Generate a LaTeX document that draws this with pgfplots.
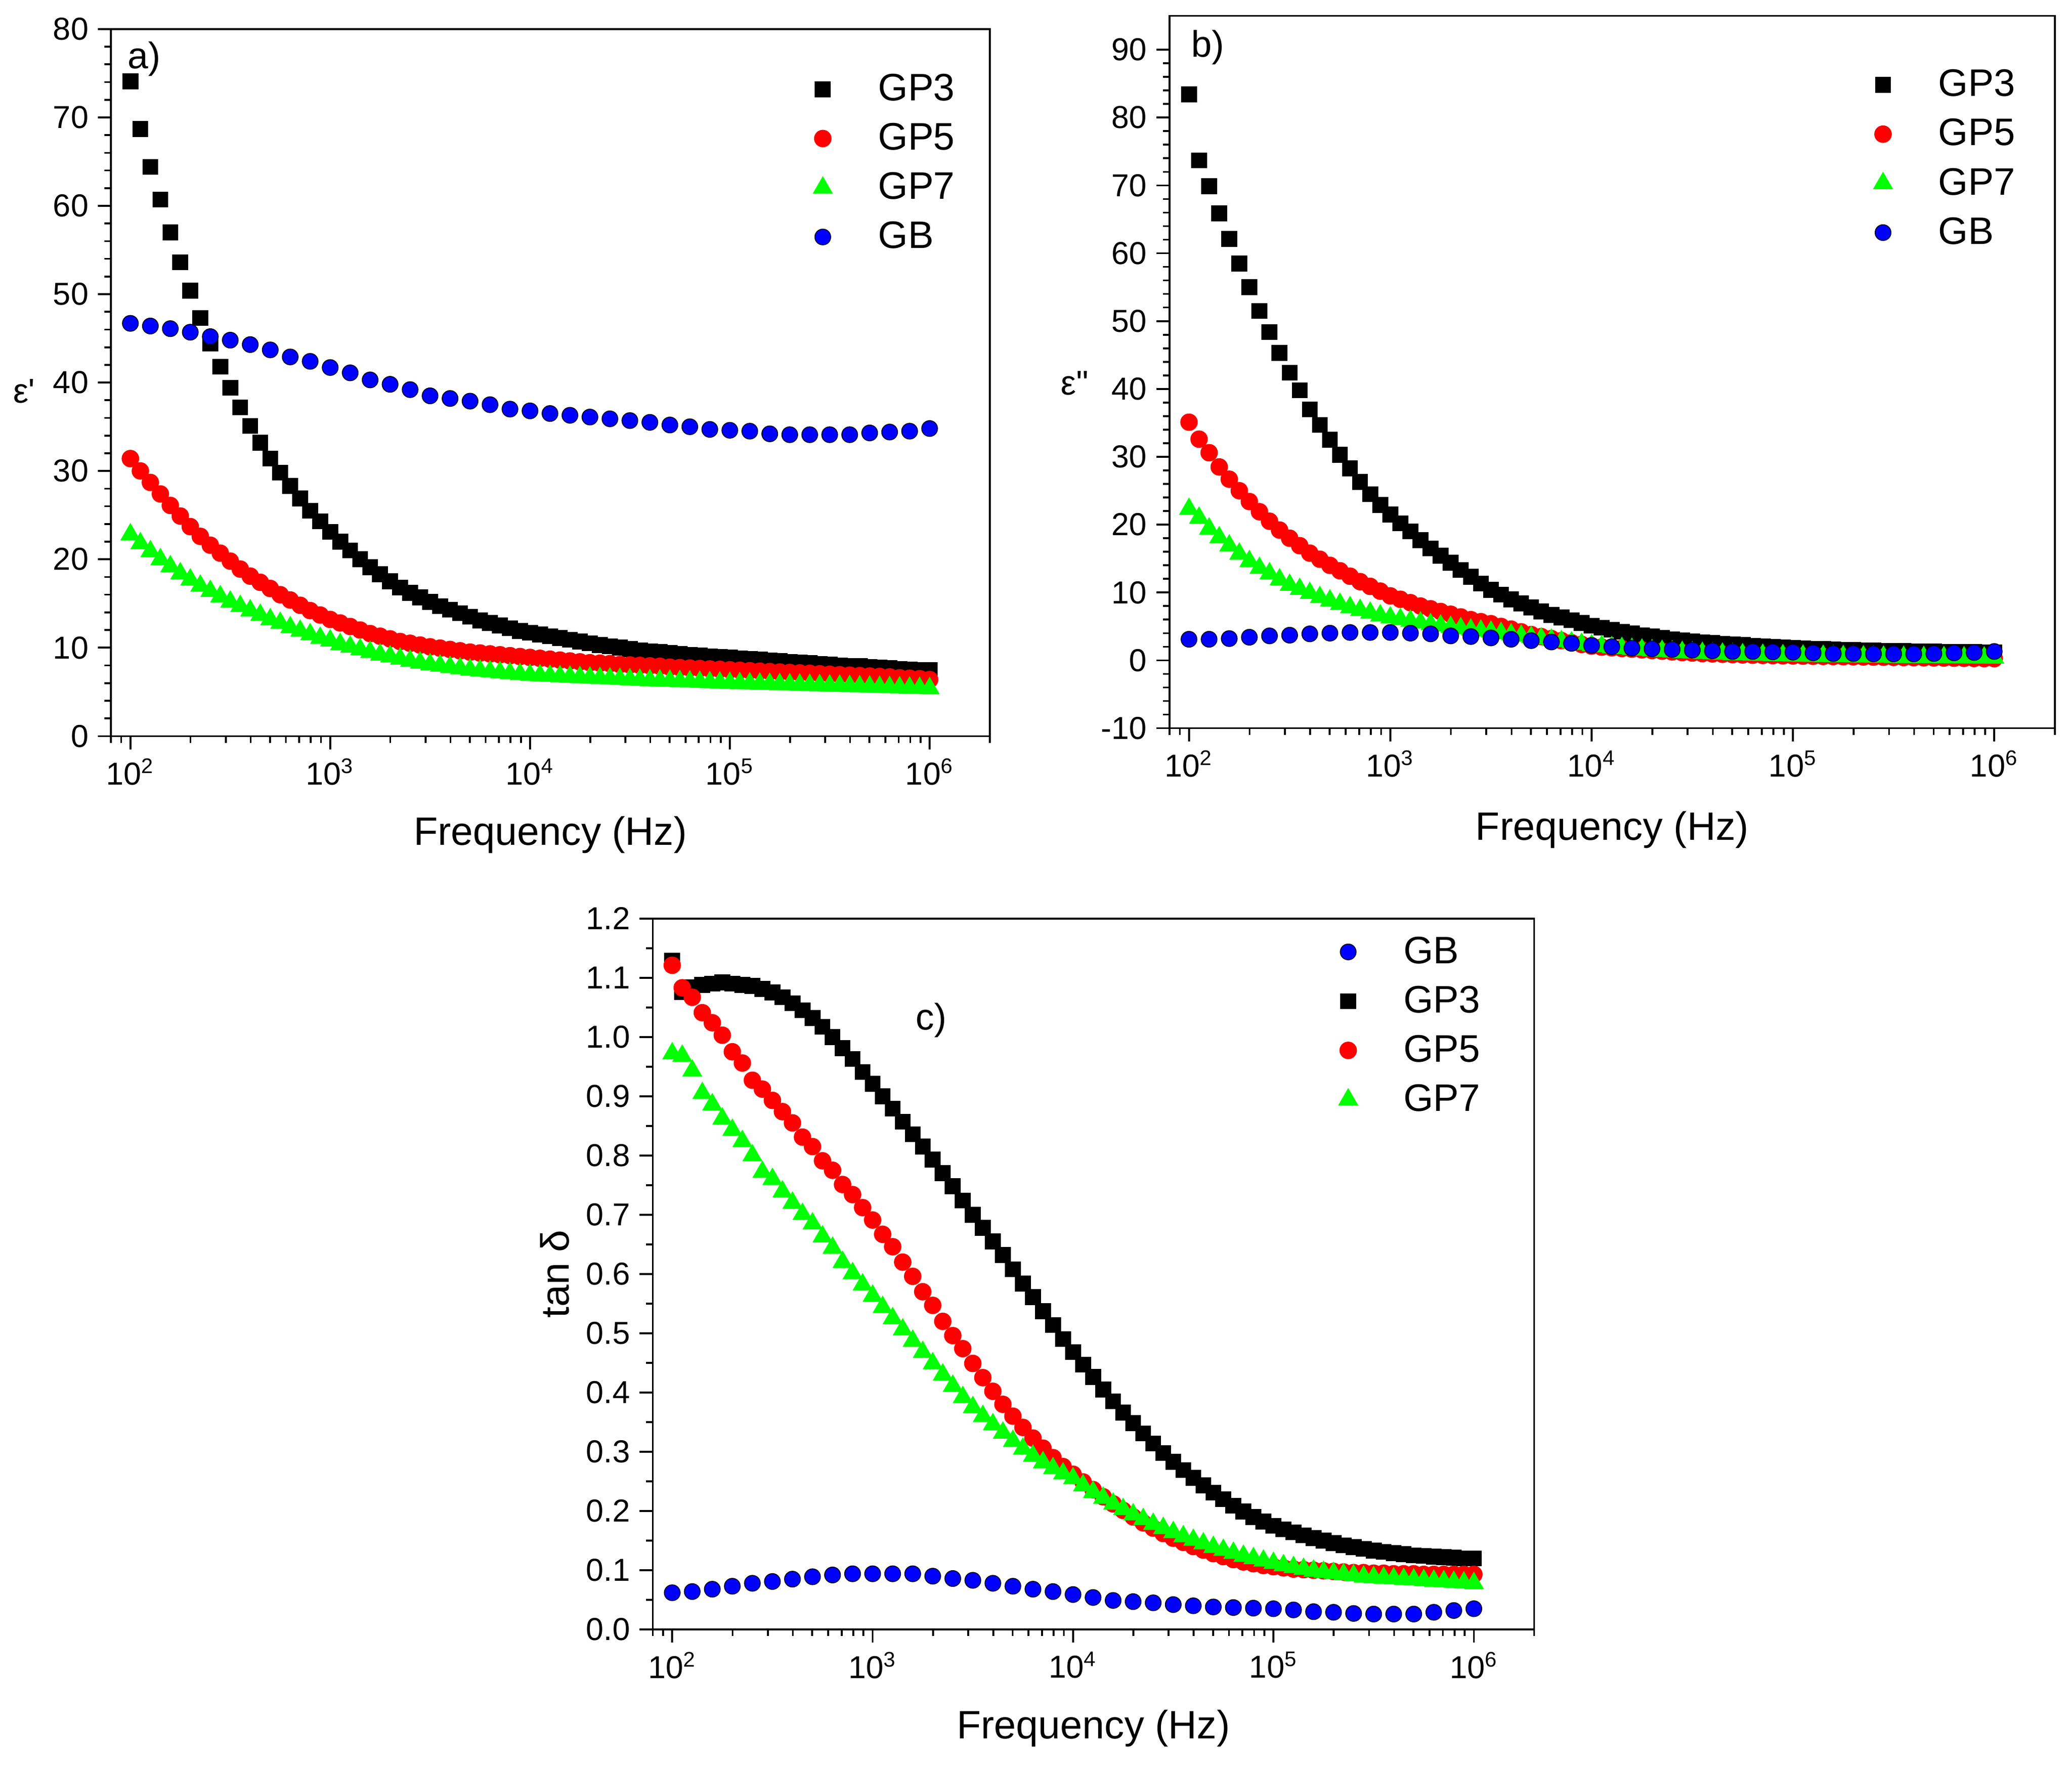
\documentclass[border=0pt]{standalone}
\usepackage{fontspec}
\setmainfont{Liberation Sans}
\usepackage{pgfplots}
\usepackage{pgfplotstable}
\pgfplotsset{compat=1.18}
\definecolor{ogreen}{RGB}{0,255,0}
\definecolor{ored}{RGB}{255,0,0}
\definecolor{oblue}{RGB}{0,0,255}

% GP samples: 20 points per decade; columns a = eps', b = eps'', c = tan delta
\pgfplotstableread{
f a3 a5 a7 b3 b5 b7 c3 c5 c7
100 74.1 31.4 22.8 83.4 35.1 22.3 1.129 1.121 0.972
112.2 68.7 30.0 21.8 73.7 32.6 21.0 1.076 1.083 0.968
125.9 64.4 28.7 20.9 69.9 30.6 19.4 1.084 1.067 0.943
141.3 60.7 27.4 20.0 65.9 28.5 18.1 1.088 1.041 0.905
158.5 57.0 26.1 19.2 62.1 26.7 16.9 1.090 1.024 0.886
177.8 53.6 24.9 18.4 58.5 25.0 15.7 1.092 1.003 0.862
199.5 50.4 23.7 17.7 55.0 23.4 14.6 1.090 0.975 0.843
223.9 47.3 22.6 17.0 51.5 21.9 13.6 1.088 0.956 0.824
251.2 44.4 21.6 16.4 48.4 20.5 12.8 1.086 0.927 0.800
281.8 41.8 20.7 15.8 45.3 19.2 11.9 1.081 0.912 0.772
316.2 39.4 19.8 15.2 42.4 18.0 11.1 1.075 0.893 0.760
354.8 37.2 18.9 14.7 39.8 16.9 10.5 1.067 0.874 0.739
398.1 35.1 18.1 14.2 37.0 15.8 9.9 1.057 0.855 0.720
446.7 33.2 17.4 13.7 34.7 14.9 9.3 1.045 0.831 0.701
501.2 31.4 16.7 13.2 32.5 14.0 8.8 1.032 0.815 0.685
562.3 29.8 16.0 12.8 30.3 13.2 8.3 1.017 0.791 0.663
631 28.3 15.4 12.3 28.3 12.4 7.8 1.000 0.775 0.644
707.9 26.9 14.8 11.9 26.3 11.6 7.4 0.981 0.751 0.620
794.3 25.5 14.2 11.5 24.5 10.9 7.0 0.963 0.734 0.601
891.3 24.3 13.7 11.1 22.9 10.2 6.6 0.941 0.712 0.582
1000 23.1 13.2 10.8 21.5 9.5 6.3 0.921 0.691 0.563
1122 22.0 12.8 10.4 20.2 9.0 6.05 0.900 0.667 0.544
1259 21.0 12.4 10.1 19.0 8.5 5.8 0.879 0.646 0.525
1413 20.0 12.0 9.8 17.7 8.0 5.55 0.857 0.620 0.506
1585 19.1 11.6 9.5 16.5 7.6 5.3 0.836 0.596 0.487
1778 18.3 11.3 9.2 15.4 7.2 5.1 0.815 0.570 0.468
1995 17.5 11.0 9.0 14.4 6.8 4.9 0.793 0.547 0.449
2239 16.8 10.7 8.75 13.3 6.4 4.7 0.770 0.520 0.430
2512 16.2 10.5 8.5 12.3 6.0 4.5 0.748 0.496 0.411
2818 15.7 10.3 8.3 11.3 5.7 4.35 0.724 0.474 0.392
3162 15.2 10.1 8.1 10.4 5.4 4.2 0.700 0.449 0.375
3548 14.7 9.95 7.95 9.7 5.0 4.0 0.678 0.425 0.360
3981 14.3 9.8 7.8 9.0 4.6 3.8 0.655 0.402 0.346
4467 13.9 9.65 7.65 8.4 4.2 3.6 0.632 0.380 0.332
5012 13.5 9.5 7.5 7.8 3.8 3.4 0.608 0.360 0.318
5623 13.1 9.4 7.4 7.2 3.5 3.2 0.584 0.341 0.305
6310 12.8 9.3 7.3 6.7 3.2 3.0 0.561 0.323 0.293
7079 12.5 9.2 7.2 6.3 2.9 2.8 0.537 0.306 0.282
7943 12.2 9.1 7.1 5.9 2.6 2.6 0.514 0.290 0.272
8913 11.9 9.0 7.0 5.5 2.35 2.4 0.490 0.275 0.263
10000 11.7 8.9 6.9 5.1 2.1 2.2 0.468 0.262 0.255
11220 11.5 8.8 6.85 4.8 1.95 2.05 0.447 0.249 0.243
12590 11.3 8.7 6.8 4.5 1.85 1.9 0.426 0.236 0.232
14130 11.1 8.6 6.75 4.2 1.75 1.78 0.405 0.224 0.222
15850 10.9 8.5 6.7 3.95 1.65 1.66 0.385 0.212 0.212
17780 10.7 8.4 6.65 3.7 1.55 1.55 0.366 0.201 0.203
19950 10.5 8.3 6.6 3.5 1.45 1.45 0.348 0.190 0.194
22390 10.3 8.25 6.55 3.3 1.35 1.36 0.331 0.180 0.186
25120 10.15 8.2 6.5 3.1 1.25 1.28 0.314 0.171 0.178
28180 10.0 8.1 6.45 2.95 1.15 1.2 0.298 0.162 0.171
31620 9.85 8.05 6.4 2.8 1.08 1.13 0.283 0.154 0.164
35480 9.7 8.0 6.35 2.65 1.0 1.06 0.269 0.147 0.157
39810 9.6 7.95 6.3 2.55 0.95 1.0 0.256 0.140 0.151
44670 9.5 7.9 6.27 2.45 0.9 0.95 0.243 0.134 0.145
50120 9.4 7.8 6.24 2.35 0.85 0.9 0.231 0.128 0.139
56230 9.3 7.75 6.2 2.25 0.8 0.86 0.220 0.123 0.134
63100 9.2 7.7 6.16 2.15 0.76 0.82 0.209 0.118 0.129
70790 9.1 7.65 6.12 2.05 0.73 0.78 0.199 0.114 0.124
79430 9.0 7.6 6.08 1.95 0.7 0.75 0.190 0.111 0.120
89130 8.95 7.55 6.04 1.9 0.67 0.72 0.182 0.108 0.116
100000 8.9 7.5 6.0 1.8 0.65 0.69 0.175 0.106 0.112
112200 8.8 7.45 5.97 1.75 0.62 0.66 0.169 0.104 0.108
125900 8.7 7.4 5.94 1.7 0.6 0.64 0.164 0.102 0.105
141300 8.65 7.35 5.91 1.65 0.58 0.62 0.159 0.101 0.102
158500 8.55 7.3 5.88 1.6 0.56 0.6 0.154 0.100 0.099
177800 8.5 7.25 5.85 1.55 0.54 0.58 0.150 0.099 0.097
199500 8.4 7.2 5.82 1.5 0.52 0.56 0.146 0.098 0.095
223900 8.3 7.15 5.79 1.47 0.5 0.54 0.142 0.097 0.093
251200 8.25 7.1 5.76 1.44 0.48 0.52 0.139 0.096 0.091
281800 8.15 7.05 5.73 1.41 0.46 0.5 0.136 0.096 0.089
316200 8.1 7.0 5.7 1.38 0.44 0.48 0.133 0.095 0.088
354800 8.0 6.95 5.67 1.35 0.42 0.47 0.131 0.095 0.087
398100 7.95 6.9 5.64 1.32 0.4 0.46 0.129 0.094 0.086
446700 7.9 6.85 5.61 1.3 0.38 0.45 0.127 0.094 0.085
501200 7.8 6.8 5.58 1.28 0.36 0.44 0.125 0.094 0.084
562300 7.75 6.75 5.55 1.26 0.34 0.43 0.124 0.093 0.083
631000 7.7 6.7 5.52 1.24 0.32 0.42 0.123 0.093 0.082
707900 7.6 6.6 5.49 1.22 0.3 0.41 0.122 0.093 0.081
794300 7.55 6.55 5.46 1.2 0.28 0.4 0.121 0.093 0.080
891300 7.5 6.5 5.43 1.18 0.26 0.39 0.120 0.093 0.079
1000000 7.45 6.4 5.4 1.16 0.25 0.38 0.120 0.093 0.078
}\GP

% GB sample: 10 points per decade
\pgfplotstableread{
f a b c
100 46.7 3.1 0.062
125.9 46.4 3.1 0.064
158.5 46.1 3.2 0.068
199.5 45.7 3.4 0.073
251.2 45.2 3.6 0.078
316.2 44.8 3.7 0.081
398.1 44.3 3.9 0.085
501.2 43.7 4.0 0.089
631 42.9 4.1 0.092
794.3 42.4 4.1 0.094
1000 41.7 4.1 0.094
1259 41.1 4.0 0.094
1585 40.3 3.9 0.094
1995 39.8 3.6 0.090
2512 39.2 3.5 0.086
3162 38.5 3.3 0.083
3981 38.2 3.1 0.078
5012 37.9 2.9 0.073
6310 37.5 2.7 0.068
7943 37.0 2.5 0.064
10000 36.8 2.2 0.059
12590 36.5 2.0 0.054
15850 36.3 1.8 0.049
19950 36.1 1.7 0.047
25120 35.9 1.6 0.045
31620 35.7 1.5 0.042
39810 35.5 1.4 0.040
50120 35.2 1.3 0.038
63100 35.0 1.3 0.037
79430 34.7 1.25 0.036
100000 34.6 1.2 0.035
125900 34.5 1.1 0.033
158500 34.2 1.0 0.030
199500 34.1 1.0 0.029
251200 34.1 0.95 0.027
316200 34.1 0.95 0.026
398100 34.1 0.95 0.026
501200 34.3 1.0 0.026
631000 34.4 1.1 0.029
794300 34.5 1.15 0.032
1000000 34.8 1.3 0.035
}\GB

\begin{document}
\begin{tikzpicture}
\path[use as bounding box] (0pt,0pt) rectangle (784pt,668pt);

% a) real permittivity
\begin{axis}[at={(42pt,389.5pt)}, anchor=south west,
    scale only axis, width=332.5pt, height=267.5pt,
    xmode=log, xmin=80, xmax=2e6,
    ymin=0, ymax=80, ytick={0,10,...,80}, minor y tick num=4,
    axis line style={line width=0.7pt},
    major tick style={line width=0.7pt, black},
    minor tick style={line width=0.7pt, black},
    tick align=outside, tick pos=left,
    major tick length=5pt, minor tick length=2.5pt,
    xtick={1e2,1e3,1e4,1e5,1e6},
    xticklabels={10\textsuperscript{2},10\textsuperscript{3},10\textsuperscript{4},10\textsuperscript{5},10\textsuperscript{6}},
    minor xtick={80,90,200,300,400,500,600,700,800,900,2000,3000,4000,5000,6000,7000,8000,9000,20000,30000,40000,50000,60000,70000,80000,90000,200000,300000,400000,500000,600000,700000,800000,900000,2000000},
    tick label style={font=\fontsize{12}{14}\selectfont},
    yticklabel={\pgfmathprintnumber[assume math mode=true]{\tick}},
    xlabel={Frequency (Hz)},
    xlabel style={font=\fontsize{15}{18}\selectfont, at={(rel axis cs:0.5,-0.14)}, anchor=center},
    ylabel={ε\textquotesingle},
    ylabel style={rotate=-90, font=\fontsize{13}{15}\selectfont, at={(rel axis cs:-0.099,0.488)}, anchor=center},
    legend cell align=left,
    legend style={draw=none, fill=none, inner sep=0pt, row sep=5pt, column sep=15pt,
      font=\fontsize{14.5}{16}\selectfont, at={(0.799,0.941)}, anchor=north west,
      nodes={inner xsep=2.5pt, inner ysep=1pt}}]
\addplot[only marks, mark=square*, mark size=2.8pt, black] table[x=f, y=a3] {\GP};
\addlegendentry{GP3}
\addplot[only marks, mark=*, mark size=3.1pt, ored, mark options={draw=ored, fill=ored}] table[x=f, y=a5] {\GP};
\addlegendentry{GP5}
\addplot[only marks, mark=triangle*, mark size=4pt, ogreen, mark options={draw=ogreen, fill=ogreen}] table[x=f, y=a7] {\GP};
\addlegendentry{GP7}
\addplot[only marks, mark=*, mark size=3pt, oblue, mark options={draw=black, fill=oblue, line width=0.3pt}] table[x=f, y=a] {\GB};
\addlegendentry{GB}
\node[font=\fontsize{14}{16}\selectfont] at (rel axis cs:0.038,0.958) {a)};
\end{axis}

% b) imaginary permittivity
\begin{axis}[at={(442.5pt,392.5pt)}, anchor=south west,
    scale only axis, width=335pt, height=269.5pt,
    xmode=log, xmin=80, xmax=2e6,
    ymin=-10, ymax=95, ytick={-10,0,...,90}, minor y tick num=4,
    axis line style={line width=0.7pt},
    major tick style={line width=0.7pt, black},
    minor tick style={line width=0.7pt, black},
    tick align=outside, tick pos=left,
    major tick length=5pt, minor tick length=2.5pt,
    xtick={1e2,1e3,1e4,1e5,1e6},
    xticklabels={10\textsuperscript{2},10\textsuperscript{3},10\textsuperscript{4},10\textsuperscript{5},10\textsuperscript{6}},
    minor xtick={80,90,200,300,400,500,600,700,800,900,2000,3000,4000,5000,6000,7000,8000,9000,20000,30000,40000,50000,60000,70000,80000,90000,200000,300000,400000,500000,600000,700000,800000,900000,2000000},
    tick label style={font=\fontsize{12}{14}\selectfont},
    yticklabel={\pgfmathprintnumber[assume math mode=true]{\tick}},
    xlabel={Frequency (Hz)},
    xlabel style={font=\fontsize{15}{18}\selectfont, at={(rel axis cs:0.5,-0.143)}, anchor=center},
    ylabel={ε\textquotedbl},
    ylabel style={rotate=-90, font=\fontsize{13}{15}\selectfont, at={(rel axis cs:-0.107,0.484)}, anchor=center},
    legend cell align=left,
    legend style={draw=none, fill=none, inner sep=0pt, row sep=5pt, column sep=15pt,
      font=\fontsize{14.5}{16}\selectfont, at={(0.795,0.929)}, anchor=north west,
      nodes={inner xsep=2.5pt, inner ysep=1pt}}]
\addplot[only marks, mark=square*, mark size=2.8pt, black] table[x=f, y=b3] {\GP};
\addlegendentry{GP3}
\addplot[only marks, mark=*, mark size=3.1pt, ored, mark options={draw=ored, fill=ored}] table[x=f, y=b5] {\GP};
\addlegendentry{GP5}
\addplot[only marks, mark=triangle*, mark size=4pt, ogreen, mark options={draw=ogreen, fill=ogreen}] table[x=f, y=b7] {\GP};
\addlegendentry{GP7}
\addplot[only marks, mark=*, mark size=3pt, oblue, mark options={draw=black, fill=oblue, line width=0.3pt}] table[x=f, y=b] {\GB};
\addlegendentry{GB}
\node[font=\fontsize{14}{16}\selectfont] at (rel axis cs:0.043,0.956) {b)};
\end{axis}

% c) loss tangent
\begin{axis}[at={(247pt,51.5pt)}, anchor=south west,
    scale only axis, width=333.5pt, height=269pt,
    xmode=log, xmin=80, xmax=2e6,
    ymin=0, ymax=1.2, ytick={0,0.1,...,1.2}, minor y tick num=1,
    axis line style={line width=0.7pt},
    major tick style={line width=0.7pt, black},
    minor tick style={line width=0.7pt, black},
    tick align=outside, tick pos=left,
    major tick length=5pt, minor tick length=2.5pt,
    xtick={1e2,1e3,1e4,1e5,1e6},
    xticklabels={10\textsuperscript{2},10\textsuperscript{3},10\textsuperscript{4},10\textsuperscript{5},10\textsuperscript{6}},
    minor xtick={80,90,200,300,400,500,600,700,800,900,2000,3000,4000,5000,6000,7000,8000,9000,20000,30000,40000,50000,60000,70000,80000,90000,200000,300000,400000,500000,600000,700000,800000,900000,2000000},
    tick label style={font=\fontsize{12}{14}\selectfont},
    yticklabel={\pgfmathprintnumber[assume math mode=true, fixed, fixed zerofill, precision=1]{\tick}},
    xlabel={Frequency (Hz)},
    xlabel style={font=\fontsize{15}{18}\selectfont, at={(rel axis cs:0.5,-0.139)}, anchor=center},
    ylabel={tan δ},
    ylabel style={font=\fontsize{15}{18}\selectfont, at={(rel axis cs:-0.111,0.5)}, anchor=center},
    legend cell align=left,
    legend style={draw=none, fill=none, inner sep=0pt, row sep=5pt, column sep=15pt,
      font=\fontsize{14.5}{16}\selectfont, at={(0.778,0.979)}, anchor=north west,
      nodes={inner xsep=2.5pt, inner ysep=1pt}}]
\addplot[only marks, mark=*, mark size=3pt, oblue, mark options={draw=black, fill=oblue, line width=0.3pt}] table[x=f, y=c] {\GB};
\addlegendentry{GB}
\addplot[only marks, mark=square*, mark size=2.8pt, black] table[x=f, y=c3] {\GP};
\addlegendentry{GP3}
\addplot[only marks, mark=*, mark size=3.1pt, ored, mark options={draw=ored, fill=ored}] table[x=f, y=c5] {\GP};
\addlegendentry{GP5}
\addplot[only marks, mark=triangle*, mark size=4pt, ogreen, mark options={draw=ogreen, fill=ogreen}] table[x=f, y=c7] {\GP};
\addlegendentry{GP7}
\node[font=\fontsize{14}{16}\selectfont] at (rel axis cs:0.316,0.857) {c)};
\end{axis}
\end{tikzpicture}
\end{document}
